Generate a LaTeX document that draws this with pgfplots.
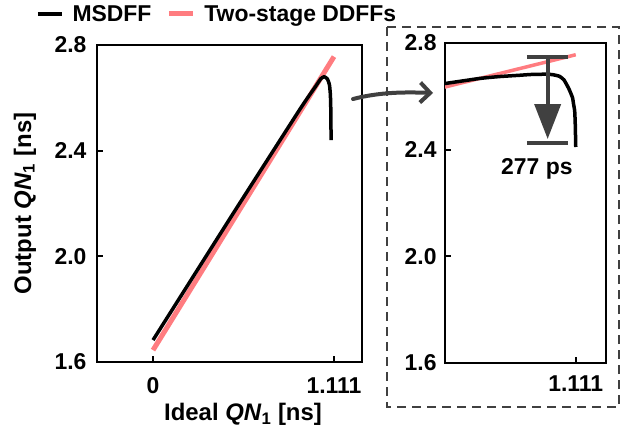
\documentclass[border=0pt]{standalone}
\usepackage{fontspec}
\setmainfont{Liberation Sans}
\usepackage{pgfplots}
\pgfplotsset{compat=1.18}
\usetikzlibrary{arrows.meta}
\definecolor{pinkred}{RGB}{255,124,128}
\definecolor{darkg}{RGB}{64,64,64}
\newcommand{\bigfont}{\fontsize{23}{27}\selectfont\bfseries}
\newcommand{\lblfont}{\fontsize{24}{28}\selectfont\bfseries}
\pgfplotstableread{
x y
0 1.645
1.111 2.756
}\reddata
\pgfplotstableread{
x y
0 1.683
0.5 2.170
0.9 2.555
1.0 2.645
1.03 2.672
1.05 2.680
1.07 2.672
1.083 2.650
1.089 2.610
1.092 2.540
1.093 2.440
}\blackleft
\pgfplotstableread{
x y
0.990 2.648
1.022 2.667
1.040 2.674
1.059 2.679
1.070 2.682
1.084 2.683
1.090 2.681
1.096 2.675
1.100 2.662
1.103 2.641
1.105 2.625
1.108 2.595
1.109 2.570
1.110 2.546
1.1105 2.500
1.111 2.410
}\blackright
\begin{document}
\begin{tikzpicture}
\useasboundingbox (0bp,0bp) rectangle (626bp,-434bp);
\pgfplotsset{
  base/.style={
    scale only axis, anchor=south west,
    tick align=inside, xtick pos=left, ytick pos=left,
    major tick length=6bp,
    every tick/.append style={black, line width=2bp},
    ymin=1.6, ymax=2.8,
    ytick={1.6,2.0,2.4,2.8}, yticklabels={1.6,2.0,2.4,2.8},
    tick label style={font=\bigfont},
    /pgf/number format/assume math mode=true,
  },
}
% left panel
\begin{axis}[base,
  at={(97bp,-362bp)}, width=265bp, height=317bp,
  xmin=-0.344, xmax=1.283,
  xtick={0,1.111}, xticklabels={0,1.111},
  axis line style={line width=2.5bp},
  xticklabel style={yshift=-12bp},
  yticklabel style={xshift=-7bp},
  xlabel={Ideal \textit{QN}\textsubscript{1} [ns]},
  ylabel={Output \textit{QN}\textsubscript{1} [ns]},
  every axis x label/.style={at={(axis description cs:0.551,-0.186)}, anchor=base, font=\lblfont},
  every axis y label/.style={at={(axis description cs:-0.249,0.5)}, anchor=base, rotate=90, font=\lblfont},
  legend reversed,
  legend style={draw=none, fill=none, inner sep=0pt, outer sep=0pt,
    at={(axis description cs:-0.23,1.098)}, anchor=west,
    legend columns=-1, font=\bigfont,
    /tikz/every odd column/.append style={column sep=7bp},
    /tikz/every even column/.append style={column sep=13bp}},
  legend image code/.code={\draw[#1] (0bp,0bp) -- (24bp,0bp);},
]
\addplot[pinkred, line width=5bp] table[x=x,y=y] {\reddata};
\addlegendentry{Two-stage DDFFs}
\addplot[black, line width=3.5bp, line join=round, smooth, tension=0.3] table[x=x,y=y] {\blackleft};
\addlegendentry{MSDFF}
\end{axis}
% right panel
\begin{axis}[base,
  at={(445bp,-363bp)}, width=161bp, height=320bp,
  xmin=0.99, xmax=1.139,
  xtick={1.111}, xticklabels={1.111},
  axis line style={line width=2bp},
  xticklabel style={yshift=-9bp},
  yticklabel style={xshift=-5bp},
]
\addplot[pinkred, line width=3.5bp] table[x=x,y=y] {\reddata};
\addplot[black, line width=3.5bp, line join=round, smooth, tension=0.3] table[x=x,y=y] {\blackright};
\draw[darkg, line width=4bp] (axis cs:1.0657,2.747) -- (axis cs:1.1036,2.747);
\draw[darkg, line width=4bp] (axis cs:1.0657,2.425) -- (axis cs:1.1036,2.425);
\draw[darkg, line width=4bp, -{Triangle[length=35bp,width=26bp]}] (axis cs:1.085,2.747) -- (axis cs:1.085,2.44);
\node[font=\bigfont] at (axis cs:1.075,2.327) {277 ps};
\end{axis}
\draw[darkg, line width=2bp, dash pattern=on 9bp off 6bp] (387bp,-27bp) rectangle (619bp,-407bp);
\draw[darkg, line width=4bp, line cap=round, -{Straight Barb[length=10bp,width=20bp]}]
  (353bp,-99bp) .. controls (380bp,-92bp) and (405bp,-92bp) .. (433bp,-93bp);
\end{tikzpicture}
\end{document}
